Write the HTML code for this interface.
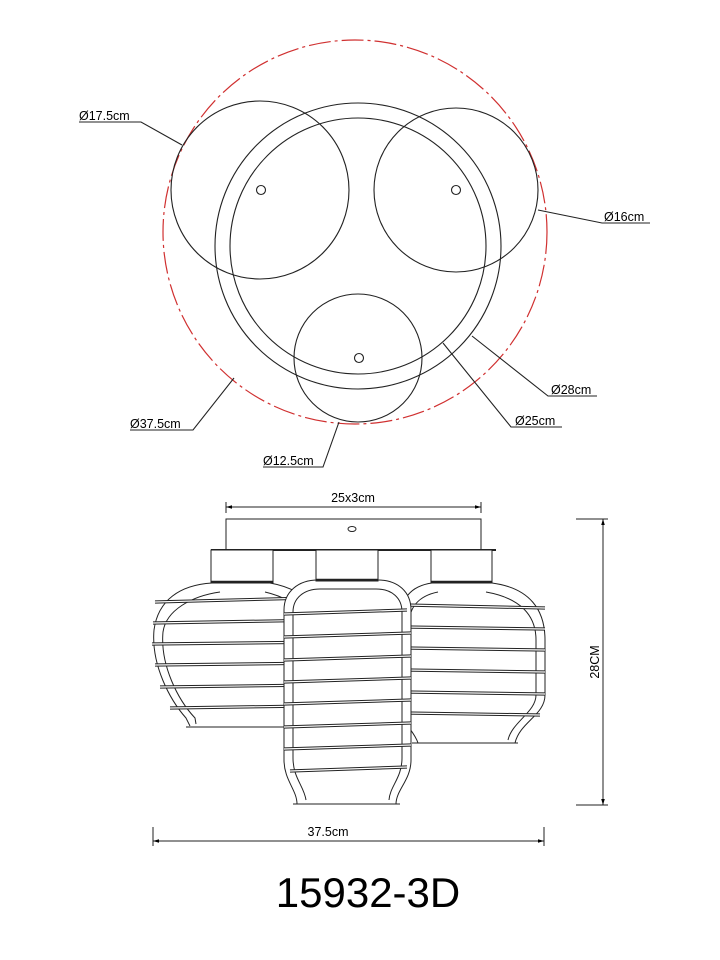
<!DOCTYPE html>
<html><head><meta charset="utf-8"><style>
html,body{margin:0;padding:0;background:#fff;}
svg{display:block;}
text{font-family:"Liberation Sans",sans-serif;fill:#000;}
</style></head><body>
<svg width="720" height="960" viewBox="0 0 720 960" xmlns="http://www.w3.org/2000/svg">
<defs>
<marker id="ar" viewBox="0 0 10 10" refX="10" refY="5" markerWidth="6" markerHeight="6" orient="auto-start-reverse"><path d="M0,2 L10,5 L0,8 Z" fill="#000"/></marker>
</defs>
<!-- Top view -->
<circle cx="355" cy="232" r="192" fill="none" stroke="#d03030" stroke-width="1.2" stroke-dasharray="22,4,3,4"/>
<g fill="none" stroke="#222" stroke-width="1.1">
<circle cx="358" cy="246" r="143"/>
<circle cx="358" cy="246" r="128"/>
<circle cx="260" cy="190" r="89"/>
<circle cx="456" cy="190" r="82"/>
<circle cx="358" cy="358" r="64"/>
<circle cx="261" cy="190" r="4.5"/>
<circle cx="456" cy="190" r="4.5"/>
<circle cx="359" cy="358" r="4.5"/>
<!-- leaders -->
<polyline points="79,122 141,122 182,145"/>
<polyline points="650,223 602,223 538,210"/>
<polyline points="597,396 548,396 472,336"/>
<polyline points="562,427 511,427 443,343"/>
<polyline points="130,430 193,430 234,378"/>
<polyline points="263,467 323,467 339,422"/>
</g>
<g font-size="12.5">
<text x="79" y="120">Ø17.5cm</text>
<text x="604" y="221">Ø16cm</text>
<text x="551" y="394">Ø28cm</text>
<text x="515" y="425">Ø25cm</text>
<text x="130" y="428">Ø37.5cm</text>
<text x="263" y="465">Ø12.5cm</text>
</g>

<!-- Side view -->
<g fill="none" stroke="#222" stroke-width="1">
<line x1="226" y1="507" x2="481" y2="507" marker-start="url(#ar)" marker-end="url(#ar)"/>
<line x1="226" y1="502" x2="226" y2="513"/><line x1="481" y1="502" x2="481" y2="513"/>
<rect x="226" y="519" width="255" height="31"/>
<ellipse cx="352" cy="529" rx="4" ry="2.5"/>
<line x1="211" y1="550" x2="496" y2="550" stroke-width="2"/>
<!-- right lantern -->
<path d="M432,583 C410,586 400,600 400,622 L400,705 C400,722 414,730 418,743 M492,583 C530,588 545,610 545,640 L545,695 C545,715 520,722 515,743 M412,743 L518,743"/>
<path d="M438,592 C418,596 409,608 409,625 L409,700 M486,592 C520,598 536,615 536,640 L536,695 C536,712 512,722 508,740"/>
<rect x="431" y="550" width="61" height="33" fill="#fff"/>
<line x1="431" y1="582" x2="492" y2="582" stroke-width="2.5"/>
<!-- left lantern -->
<path d="M212,583 C180,585 158,600 154,630 C151,665 170,700 186,718 L190,726 M220,592 C192,596 166,610 163,632 C160,665 178,700 195,718 L196,724 M270,583 C310,590 335,620 332,660 C330,690 315,710 305,726 M265,592 C300,600 322,625 322,660 C320,690 305,710 298,722 M186,727 L300,727"/>
<rect x="211" y="550" width="62" height="33" fill="#fff"/>
<line x1="211" y1="582" x2="273" y2="582" stroke-width="2.5"/>
</g>
<g stroke="#222" stroke-width="3.2" fill="none">
<line x1="155" y1="602" x2="310" y2="598"/>
<line x1="153" y1="623" x2="330" y2="620"/>
<line x1="152" y1="644" x2="335" y2="642"/>
<line x1="155" y1="665" x2="330" y2="663"/>
<line x1="160" y1="687" x2="320" y2="685"/>
<line x1="170" y1="708" x2="310" y2="706"/>
<line x1="405" y1="605" x2="545" y2="608"/>
<line x1="405" y1="627" x2="545" y2="629"/>
<line x1="405" y1="648" x2="545" y2="650"/>
<line x1="405" y1="670" x2="545" y2="672"/>
<line x1="405" y1="692" x2="545" y2="694"/>
<line x1="405" y1="713" x2="540" y2="715"/>
</g>
<g stroke="#fff" stroke-width="1.2" fill="none">
<line x1="155" y1="602" x2="310" y2="598"/>
<line x1="153" y1="623" x2="330" y2="620"/>
<line x1="152" y1="644" x2="335" y2="642"/>
<line x1="155" y1="665" x2="330" y2="663"/>
<line x1="160" y1="687" x2="320" y2="685"/>
<line x1="170" y1="708" x2="310" y2="706"/>
<line x1="405" y1="605" x2="545" y2="608"/>
<line x1="405" y1="627" x2="545" y2="629"/>
<line x1="405" y1="648" x2="545" y2="650"/>
<line x1="405" y1="670" x2="545" y2="672"/>
<line x1="405" y1="692" x2="545" y2="694"/>
<line x1="405" y1="713" x2="540" y2="715"/>
</g>
<!-- middle lantern -->
<g fill="none" stroke="#222" stroke-width="1">
<path d="M297,804 C297,790 284,780 284,760 L284,610 C284,592 298,580 318,580 L378,580 C398,580 411,592 411,610 L411,760 C411,780 396,790 396,804 Z" fill="#fff"/>
<path d="M306,800 C304,786 293,778 293,758 L293,612 C293,598 304,589 320,589 L376,589 C392,589 402,598 402,612 L402,758 C402,778 390,786 389,800"/>
<path d="M293,804 L400,804"/>
<rect x="316" y="550" width="62" height="31" fill="#fff"/>
<line x1="316" y1="580" x2="378" y2="580" stroke-width="2.5"/>
</g>
<g stroke="#222" stroke-width="3.2">
<line x1="284" y1="614" x2="407" y2="610"/><line x1="284" y1="637" x2="411" y2="633"/>
<line x1="284" y1="660" x2="411" y2="656"/><line x1="284" y1="682" x2="411" y2="678"/>
<line x1="284" y1="704" x2="411" y2="700"/><line x1="284" y1="727" x2="411" y2="723"/>
<line x1="284" y1="749" x2="411" y2="745"/><line x1="290" y1="771" x2="407" y2="767"/>
</g>
<g stroke="#fff" stroke-width="1.2">
<line x1="284" y1="614" x2="407" y2="610"/><line x1="284" y1="637" x2="411" y2="633"/>
<line x1="284" y1="660" x2="411" y2="656"/><line x1="284" y1="682" x2="411" y2="678"/>
<line x1="284" y1="704" x2="411" y2="700"/><line x1="284" y1="727" x2="411" y2="723"/>
<line x1="284" y1="749" x2="411" y2="745"/><line x1="290" y1="771" x2="407" y2="767"/>
</g>
<!-- dims -->
<g fill="none" stroke="#222" stroke-width="1">
<line x1="576" y1="519" x2="608" y2="519"/><line x1="576" y1="805" x2="608" y2="805"/>
<line x1="603" y1="519" x2="603" y2="805" marker-start="url(#ar)" marker-end="url(#ar)"/>
<line x1="153" y1="827" x2="153" y2="846"/><line x1="544" y1="827" x2="544" y2="846"/>
<line x1="153" y1="841" x2="544" y2="841" marker-start="url(#ar)" marker-end="url(#ar)"/>
</g>
<text x="353" y="502" font-size="12.5" text-anchor="middle">25x3cm</text>
<text x="328" y="836" font-size="12.5" text-anchor="middle">37.5cm</text>
<text x="0" y="0" font-size="12.5" text-anchor="middle" transform="translate(599,662) rotate(-90)">28CM</text>
<text x="368" y="907" font-size="42" text-anchor="middle">15932-3D</text>
</svg>
</body></html>
